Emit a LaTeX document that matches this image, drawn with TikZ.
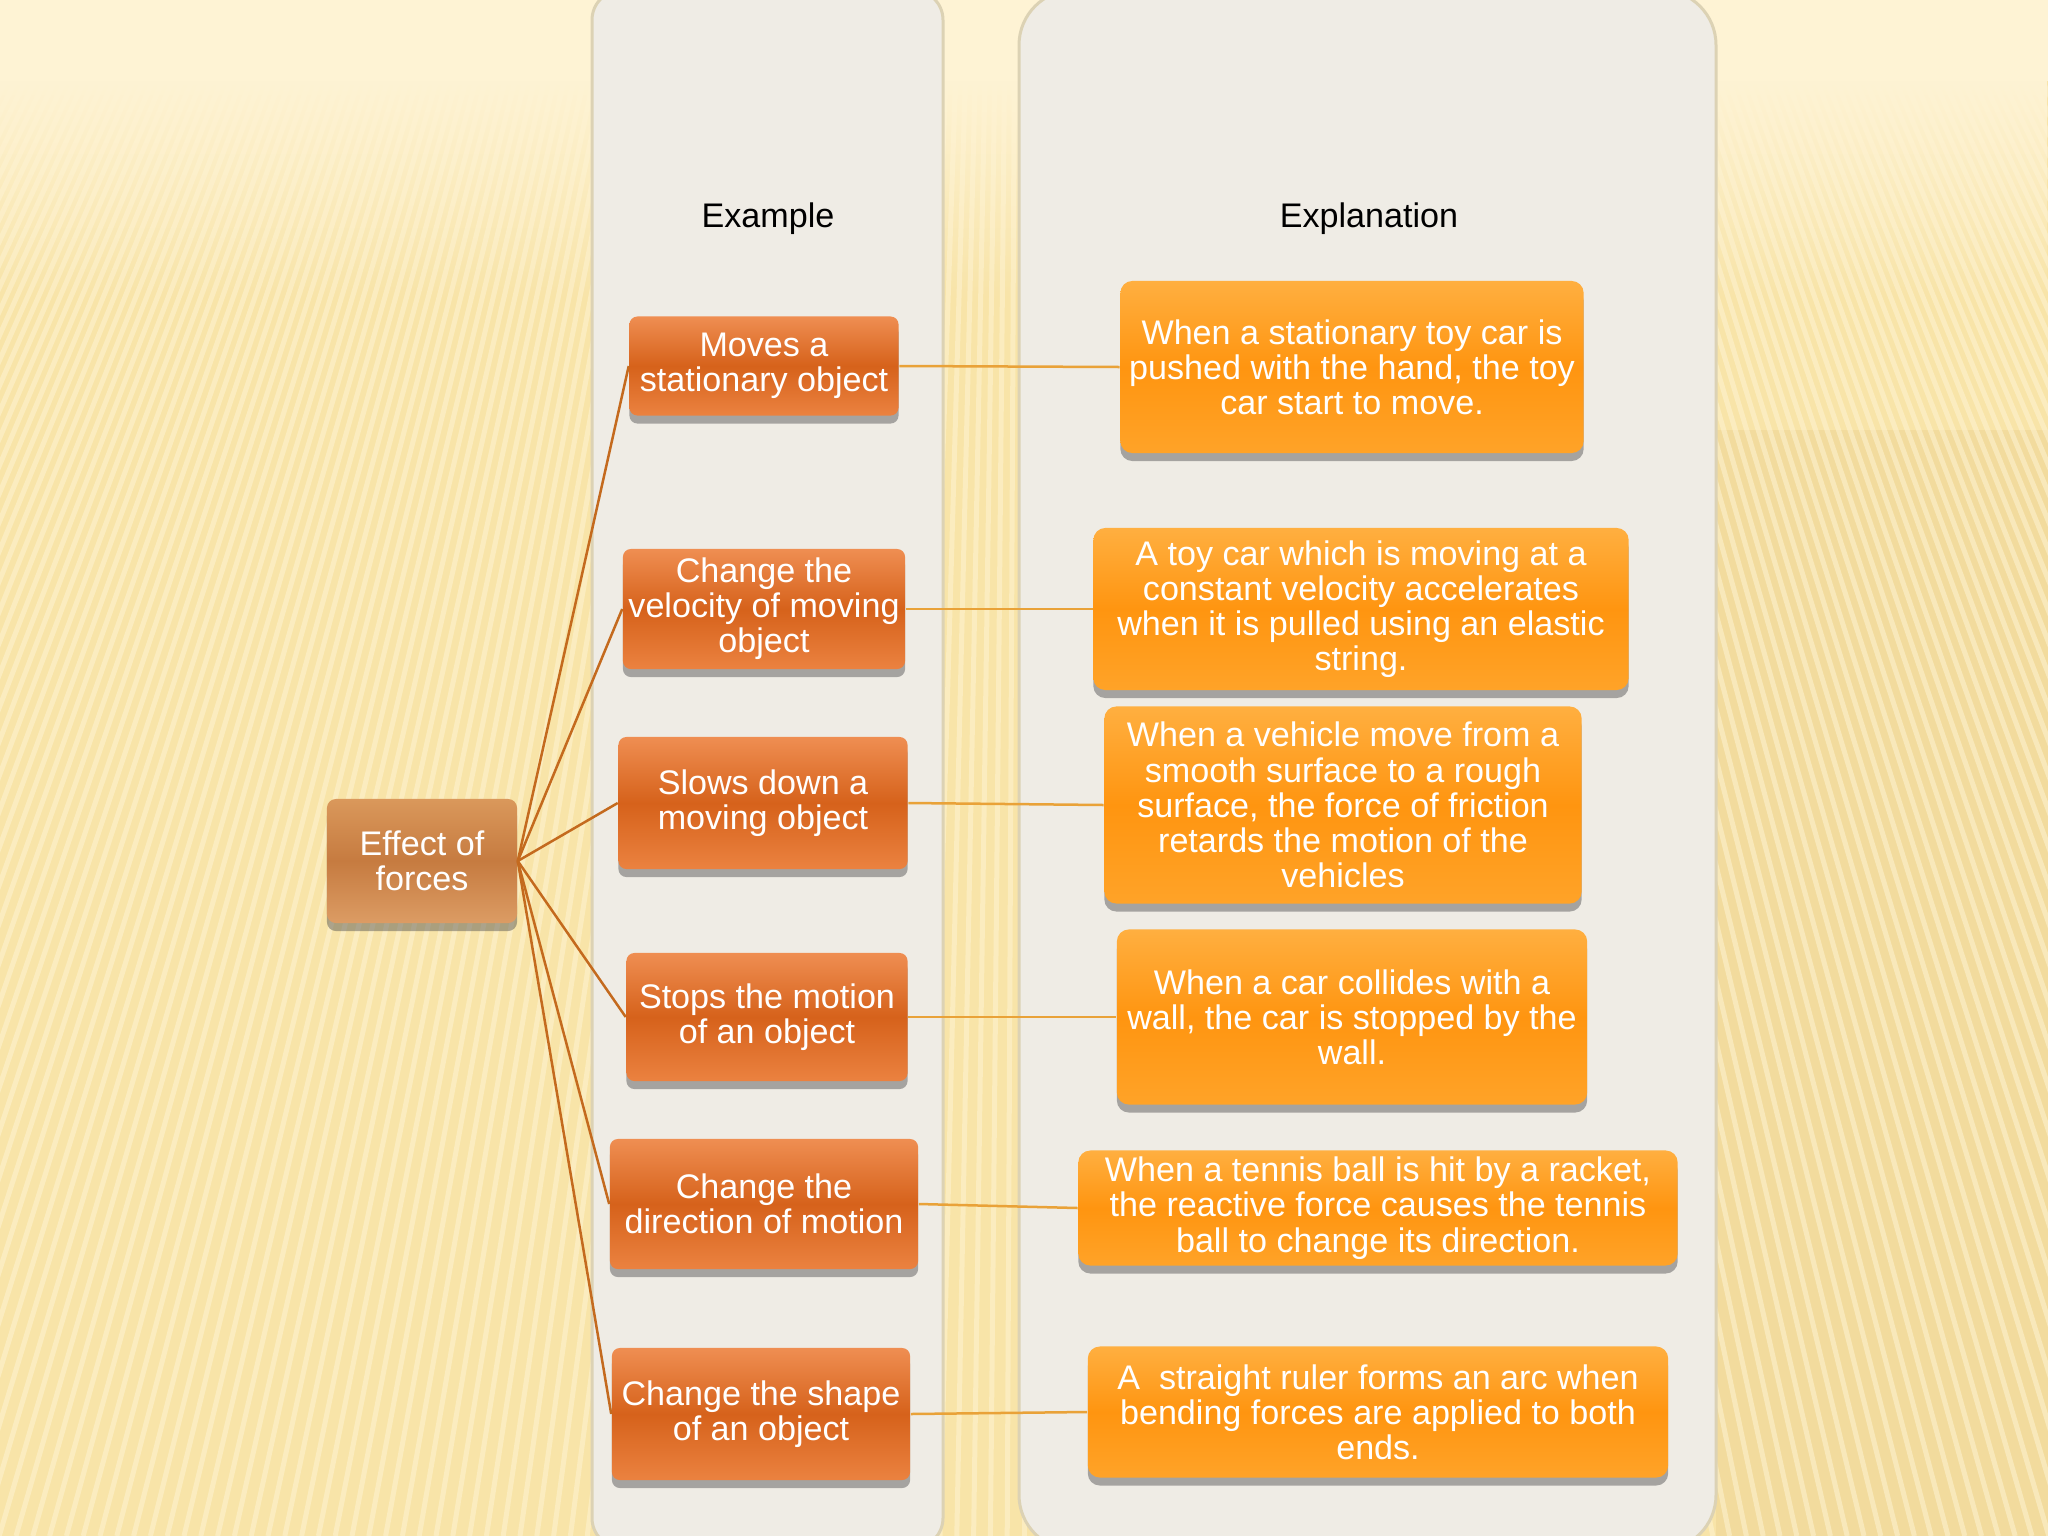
\documentclass[tikz,border=0pt]{standalone}
\usepackage{fontspec}
\setmainfont{Liberation Sans}
\usetikzlibrary{shadows,fadings}

\definecolor{bgbase}{HTML}{F8E4A8}
\definecolor{bgtop}{HTML}{FEF3D4}
\definecolor{bgright}{HTML}{EED596}
\definecolor{stripe}{HTML}{FEF4D2}
\definecolor{panelfill}{HTML}{EFECE5}
\definecolor{paneledge}{HTML}{DCD2B4}
\definecolor{exTop}{HTML}{EF8E52}
\definecolor{exMid}{HTML}{D6621B}
\definecolor{exBot}{HTML}{EB8240}
\definecolor{expTop}{HTML}{FFAF40}
\definecolor{expMid}{HTML}{FF9510}
\definecolor{expBot}{HTML}{FFA328}
\definecolor{rootTop}{HTML}{DA985B}
\definecolor{rootMid}{HTML}{C67B40}
\definecolor{rootBot}{HTML}{DC9C64}
\definecolor{rootLink}{HTML}{C46A1E}
\definecolor{rowLink}{HTML}{E9A238}

\tikzfading[name=fade_down, top color=transparent!0, bottom color=transparent!100]

\begin{document}
\begin{tikzpicture}
    % 像素坐标, y 向下
    [x=0.01cm, y=-0.01cm,
    panel/.style={fill=panelfill, draw=paneledge, line width=0.03cm,
        drop shadow={shadow xshift=0cm, shadow yshift=0cm, opacity=0.25}},
    head_label/.style={font=\fontsize{9.7}{10}\selectfont, text=black},
    box_base/.style={align=center, text=white, inner sep=0pt,
        font=\fontsize{9.7}{10}\selectfont,
        drop shadow={shadow xshift=0cm, shadow yshift=-0.08cm, opacity=0.45, fill=black!70}},
    root_box/.style={box_base, rounded corners=0.09cm,
        top color=rootTop, bottom color=rootBot, middle color=rootMid},
    ex_box/.style={box_base, rounded corners=0.08cm,
        top color=exTop, bottom color=exBot, middle color=exMid},
    exp_box/.style={box_base, rounded corners=0.12cm,
        top color=expTop, bottom color=expBot, middle color=expMid},
    root_link/.style={draw=rootLink, line width=0.025cm},
    row_link/.style={draw=rowLink, line width=0.025cm}]
    \useasboundingbox (0,0) rectangle (2048,1536);
    \clip (0,0) rectangle (2048,1536);
    % 背景与条纹
    \fill[bgbase] (0,0) rectangle (2048,1536);
    \fill[bgright, opacity=0.6] (1716,430) rectangle (2048,1536);
    \foreach \i in {-115,...,115}
        \draw[stripe, opacity=0.55, line width=0.05cm]
            ({1024+\i*9.4},0) -- ({1024+\i*16.8},1536);
    \fill[bgtop] (0,-10) rectangle (2048,81);
    \fill[bgtop, path fading=fade_down] (0,80) rectangle (2048,300);
    % 两个竖栏
    \draw[panel, rounded corners=0.3cm] (592,-10) rectangle (943,1548);
    \draw[panel, rounded corners=0.55cm] (1019,-10) rectangle (1716,1550);
    \node[head_label] (head_ex) at (768,219) {Example};
    \node[head_label] (head_exp) at (1369,219) {Explanation};
    % 根节点
    \node[root_box, minimum width=1.90cm, minimum height=1.24cm] (root) at (422,861)
        {Effect of\\forces};
    % 例子
    \node[ex_box, minimum width=2.69cm, minimum height=0.99cm] (ex1) at (764,366)
        {Moves a\\stationary object};
    \node[ex_box, minimum width=2.82cm, minimum height=1.20cm] (ex2) at (764,609)
        {Change the\\velocity of moving\\object};
    \node[ex_box, minimum width=2.89cm, minimum height=1.32cm] (ex3) at (763,803)
        {Slows down a\\moving object};
    \node[ex_box, minimum width=2.81cm, minimum height=1.28cm] (ex4) at (767,1017)
        {Stops the motion\\of an object};
    \node[ex_box, minimum width=3.08cm, minimum height=1.30cm] (ex5) at (764,1204)
        {Change the\\direction of motion};
    \node[ex_box, minimum width=2.98cm, minimum height=1.32cm] (ex6) at (761,1414)
        {Change the shape\\of an object};
    % 解释
    \node[exp_box, minimum width=4.63cm, minimum height=1.72cm] (exp1) at (1352,367)
        {When a stationary toy car is\\pushed with the hand, the toy\\car start to move.};
    \node[exp_box, minimum width=5.35cm, minimum height=1.62cm] (exp2) at (1361,609)
        {A toy car which is moving at a\\constant velocity accelerates\\when it is pulled using an elastic\\string.};
    \node[exp_box, minimum width=4.77cm, minimum height=1.97cm] (exp3) at (1343,805)
        {When a vehicle move from a\\smooth surface to a rough\\surface, the force of friction\\retards the motion of the\\vehicles};
    \node[exp_box, minimum width=4.70cm, minimum height=1.75cm] (exp4) at (1352,1017)
        {When a car collides with a\\wall, the car is stopped by the\\wall.};
    \node[exp_box, minimum width=5.99cm, minimum height=1.15cm] (exp5) at (1378,1208)
        {When a tennis ball is hit by a racket,\\the reactive force causes the tennis\\ball to change its direction.};
    \node[exp_box, minimum width=5.80cm, minimum height=1.31cm] (exp6) at (1378,1412)
        {A\ \ straight ruler forms an arc when\\bending forces are applied to both\\ends.};
    % 连线
    \foreach \n in {1,...,6} {
        \draw[root_link] (root.east) -- (ex\n.west);
        \draw[row_link] (ex\n.east) -- (exp\n.west);
    }
\end{tikzpicture}
\end{document}
